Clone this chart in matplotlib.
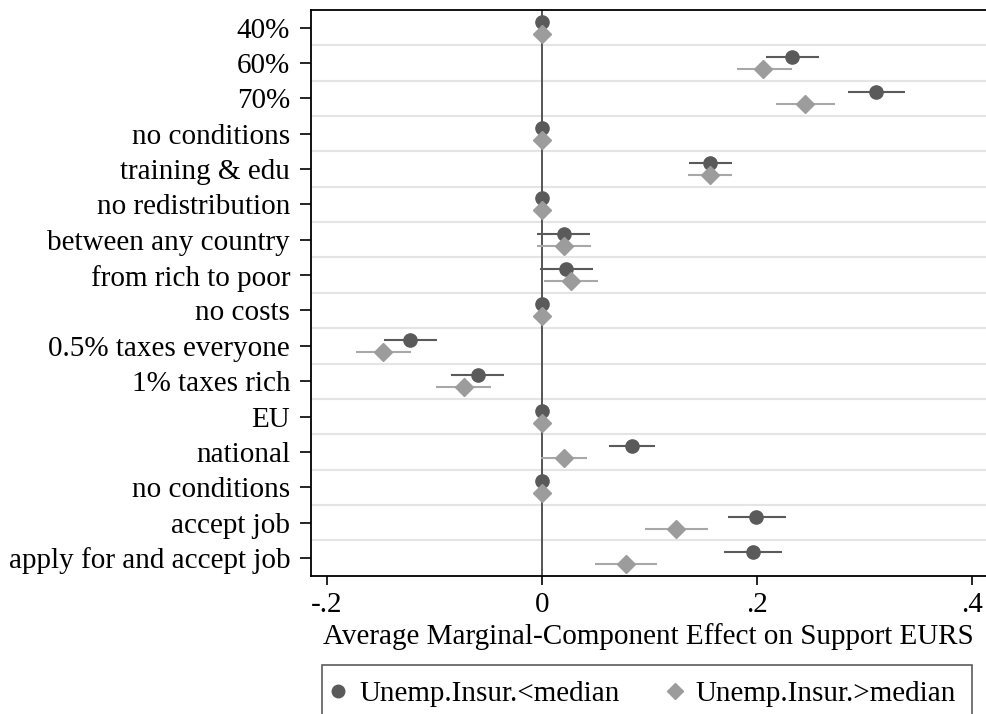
import numpy as np
import matplotlib
matplotlib.use("Agg")
import matplotlib.pyplot as plt
from matplotlib.lines import Line2D

plt.rcParams['font.family'] = ['Liberation Serif', 'DejaVu Serif']

labels = ["40%", "60%", "70%", "no conditions", "training & edu",
          "no redistribution", "between any country", "from rich to poor",
          "no costs", "0.5% taxes everyone", "1% taxes rich", "EU",
          "national", "no conditions", "accept job", "apply for and accept job"]

# Unemp.Insur.<median
low_est = [0, 0.233, 0.311, 0, 0.156, 0, 0.020, 0.022, 0, -0.123, -0.060, 0, 0.084, 0, 0.199, 0.196]
low_lo = [0, 0.208, 0.285, 0, 0.137, 0, -0.005, -0.002, 0, -0.147, -0.085, 0, 0.062, 0, 0.173, 0.169]
low_hi = [0, 0.258, 0.338, 0, 0.177, 0, 0.045, 0.047, 0, -0.098, -0.035, 0, 0.105, 0, 0.227, 0.223]

# Unemp.Insur.>median
high_est = [0, 0.206, 0.245, 0, 0.156, 0, 0.020, 0.027, 0, -0.148, -0.073, 0, 0.020, 0, 0.125, 0.078]
high_lo = [0, 0.181, 0.218, 0, 0.136, 0, -0.005, 0.002, 0, -0.173, -0.099, 0, -0.001, 0, 0.096, 0.049]
high_hi = [0, 0.233, 0.273, 0, 0.177, 0, 0.046, 0.052, 0, -0.122, -0.047, 0, 0.042, 0, 0.154, 0.107]

series_names = ['Unemp.Insur.<median', 'Unemp.Insur.>median']
xticks = [-0.2, 0, 0.2, 0.4]
xticklabels = ["-.2", "0", ".2", ".4"]

dark = '#5a5a5a'
light = '#9c9c9c'
fs = 21

fig = plt.figure(figsize=(9.86, 7.14), dpi=100)
ax = fig.add_axes([311/986, 1-575.6/714, 1-311/986, (575.6-10)/714])

pos = np.arange(1, len(labels)+1)
low_est = np.array(low_est); high_est = np.array(high_est)
low_err = [low_est-np.array(low_lo), np.array(low_hi)-low_est]
high_err = [high_est-np.array(high_lo), np.array(high_hi)-high_est]

ax.axvline(0, color='#555555', lw=1.4, zorder=2)
ax.errorbar(low_est, pos-0.17, xerr=low_err, fmt='o', color=dark, ecolor=dark,
            ms=9.5, elinewidth=1.5, capsize=0, zorder=3)
ax.errorbar(high_est, pos+0.17, xerr=high_err, fmt='D', color=light, ecolor='#a8a8a8',
            ms=9.5, elinewidth=1.5, capsize=0, zorder=4)

ax.set_xlim(-0.2149, 0.413)
ax.set_ylim(len(labels)+0.5, 0.5)
ax.set_yticks(pos)
ax.set_yticklabels(labels, fontsize=fs)
ax.set_yticks(pos[:-1]+0.5, minor=True)
ax.grid(which='minor', axis='y', color='#e4e4e4', lw=1.5)
ax.set_xticks(xticks)
ax.set_xticklabels(xticklabels, fontsize=fs)
ax.tick_params(axis='y', which='major', length=8, width=1.2, pad=7)
ax.tick_params(axis='y', which='minor', length=0)
ax.tick_params(axis='x', length=6.5, width=1.2, pad=5)
ax.set_xlabel("Average Marginal-Component Effect on Support EURS", fontsize=fs, labelpad=4)
for s in ['left', 'bottom', 'top']:
    ax.spines[s].set_linewidth(1.3)
ax.spines['right'].set_visible(False)
ax.set_axisbelow(True)

# legend shows markers only, like stata
h = [Line2D([], [], ls='none', marker='o', color=dark, ms=9),
     Line2D([], [], ls='none', marker='D', color=light, ms=8.5)]
leg = fig.legend(h, series_names, loc='upper left', bbox_to_anchor=(322/986, 1-665/714), ncol=2,
                 fontsize=fs, frameon=True, fancybox=False, borderaxespad=0,
                 borderpad=0.55, handlelength=0.01, handletextpad=0.72, columnspacing=1.88)
leg.get_frame().set_edgecolor('#333333')
leg.get_frame().set_linewidth(1.2)

fig.savefig('out.png', dpi=100)
